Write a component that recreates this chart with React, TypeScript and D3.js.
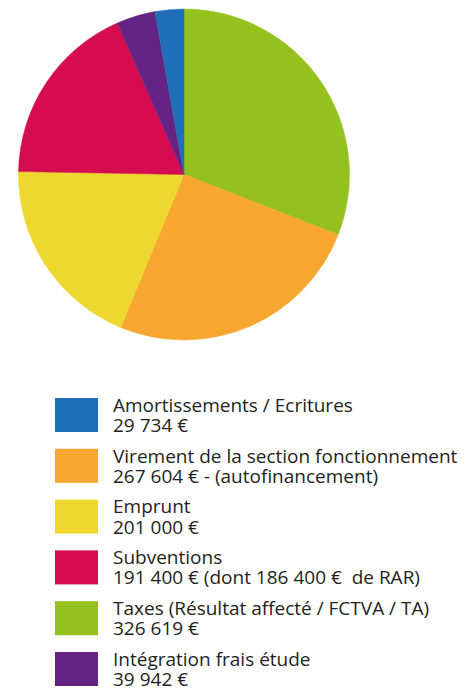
import React from 'react';
import * as d3 from 'd3';

// legend order
const labels = [
  'Amortissements / Ecritures',
  'Virement de la section fonctionnement',
  'Emprunt',
  'Subventions',
  'Taxes (Résultat affecté / FCTVA / TA)',
  'Intégration frais étude',
];
const subLabels = [
  '29 734 €',
  '267 604 € - (autofinancement)',
  '201 000 €',
  '191 400 € (dont 186 400 €  de RAR)',
  '326 619 €',
  '39 942 €',
];
const values = [29734, 267604, 201000, 191400, 326619, 39942];
const colors = ['#1e6fb7', '#f7a730', '#eed72f', '#d50c4f', '#95c11f', '#652383'];
// drawing order of slices, clockwise from 12 o'clock
const pieOrder = [4, 1, 2, 3, 5, 0];

const App = () => {
  const width = 468;
  const height = 691;
  const cx = 184;
  const cy = 174.5;
  const radius = 165.5;

  const pie = d3.pie<number>().sort(null).value(i => values[i]);
  const arcs = pie(pieOrder);
  const arc = d3.arc<d3.PieArcDatum<number>>().innerRadius(0).outerRadius(radius);

  const legendTop = 398; // first swatch
  const rowStep = 50.8;

  return (
    <svg
      width={width}
      height={height}
      style={{ position: 'absolute', left: 0, top: 0, background: '#fff' }}
    >
      <g transform={`translate(${cx},${cy})`}>
        {arcs.map(a => (
          <path key={a.data} d={arc(a) || ''} fill={colors[a.data]} stroke={colors[a.data]} strokeWidth={0.5} />
        ))}
      </g>
      <g fontFamily="'Open Sans', sans-serif" fill="#231f20">
        {labels.map((l, i) => {
          const y = legendTop + i * rowStep;
          return (
            <g key={l}>
              <rect x={55} y={y} width={43} height={34} fill={colors[i]} />
              <text x={113} y={y + 13.8} fontSize={19} xmlSpace="preserve">{l}</text>
              <text x={113} y={y + 34} fontSize={19} xmlSpace="preserve">{subLabels[i]}</text>
            </g>
          );
        })}
      </g>
    </svg>
  );
};

export default App;
